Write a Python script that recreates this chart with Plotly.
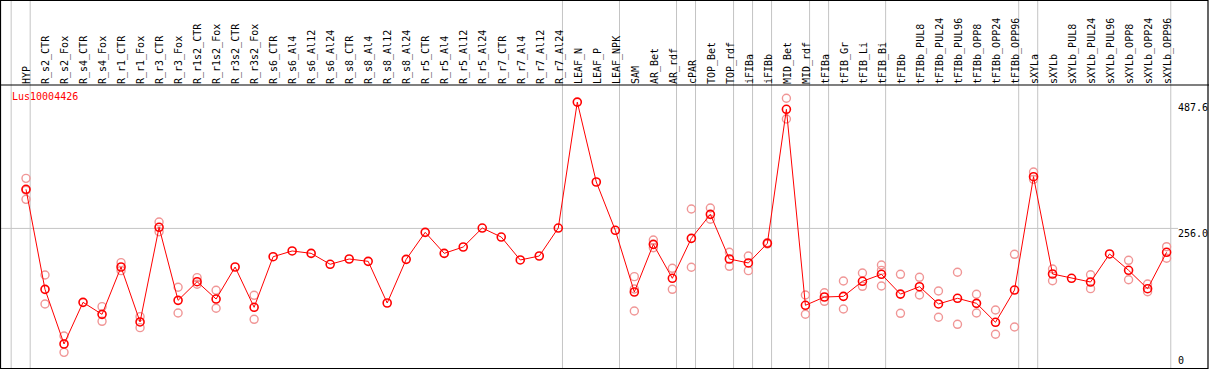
import plotly.graph_objects as go

title_text = "Lus10004426"

categories = [
    "HYP", "R_s2_CTR", "R_s2_Fox", "R_s4_CTR", "R_s4_Fox", "R_r1_CTR", "R_r1_Fox",
    "R_r3_CTR", "R_r3_Fox", "R_r1s2_CTR", "R_r1s2_Fox", "R_r3s2_CTR", "R_r3s2_Fox",
    "R_s6_CTR", "R_s6_Al4", "R_s6_Al12", "R_s6_Al24", "R_s8_CTR", "R_s8_Al4",
    "R_s8_Al12", "R_s8_Al24", "R_r5_CTR", "R_r5_Al4", "R_r5_Al12", "R_r5_Al24",
    "R_r7_CTR", "R_r7_Al4", "R_r7_Al12", "R_r7_Al24", "LEAF_N", "LEAF_P", "LEAF_NPK",
    "SAM", "AR_Bet", "AR_rdf", "cPAR", "TOP_Bet", "TOP_rdf", "iFIBa", "iFIBb",
    "MID_Bet", "MID_rdf", "tFIBa", "tFIB_Gr", "tFIB_Li", "tFIB_Bi", "tFIBb",
    "tFIBb_PUL8", "tFIBb_PUL24", "tFIBb_PUL96", "tFIBb_OPP8", "tFIBb_OPP24",
    "tFIBb_OPP96", "sXYLa", "sXYLb", "sXYLb_PUL8", "sXYLb_PUL24", "sXYLb_PUL96",
    "sXYLb_OPP8", "sXYLb_OPP24", "sXYLb_OPP96",
]

# number of categories in each separated group (left to right)
group_sizes = [1, 28, 3, 3, 1, 2, 1, 1, 2, 1, 3, 7, 1, 7]

mean_values = [
    327.7, 144.2, 44.0, 120.4, 98.4, 185.2, 84.4,
    258.0, 124.1, 158.3, 126.5, 185.2, 111.3,
    204.1, 214.6, 210.3, 190.2, 199.9, 195.6,
    119.2, 199.3, 248.8, 210.3, 221.9, 256.7,
    240.2, 198.1, 205.4, 256.7, 487.6, 341.1, 252.5,
    139.4, 226.8, 164.5, 237.8, 281.8, 199.9, 192.6, 228.7,
    474.4, 115.0, 130.2, 131.4, 159.0, 171.8, 135.5,
    149.1, 117.4, 127.8, 118.6, 83.8,
    143.0, 350.8, 172.4, 164.5, 157.7, 209.1,
    179.2, 145.4, 212.2,
]

N = None
rep_a = [
    347.8, 170.5, 58.7, N, 112.5, 193.2, 94.2,
    267.7, 148.0, 165.7, 142.5, N, 133.3,
    N, N, N, N, N, N,
    N, N, N, N, N, N,
    N, N, N, N, N, N, N,
    167.5, 234.7, 182.8, 291.6, 293.4, 212.2, 205.4, 230.0,
    494.6, 133.9, 138.1, 159.5, 174.2, 188.9, 171.8,
    166.3, 141.2, 175.5, 135.2, 106.4,
    208.5, 359.4, 181.6, N, 171.1, N,
    197.5, 154.0, 222.5,
]
rep_b = [
    309.3, 117.4, 28.7, N, 85.6, 178.5, 74.0,
    250.0, 100.9, 153.5, 109.5, N, 89.3,
    N, N, N, N, N, N,
    N, N, N, N, N, N,
    N, N, N, N, N, N, N,
    144.9, 220.6, 144.3, 184.7, 272.7, 186.5, 178.5, 227.5,
    456.6, 98.5, 122.3, 108.2, 149.8, 150.4, 100.3,
    133.9, 93.0, 80.1, 100.9, 61.8,
    75.2, 346.0, 160.1, N, 145.5, N,
    161.9, 139.9, 201.2,
]
rep_c = [
    326.0, N, N, N, N, N, N,
    N, N, N, N, N, N,
    N, N, N, N, N, N,
    N, N, N, N, N, N,
    N, N, N, N, N, N, N,
    104.5, N, N, N, N, N, N, N,
    N, N, N, N, N, 179.0, N,
    N, N, N, N, N,
    N, N, N, N, N, N,
    N, N, N,
]

y_ticks = [0, 256.0, 487.6]
y_tick_text = ["0", "256.0", "487.6"]

assert len(categories) == len(mean_values) == len(rep_a) == len(rep_b) == len(rep_c)
assert sum(group_sizes) == len(categories)

# ---- layout geometry ----
W, H = 1209, 370
TOP, BOT = 85, 2
plot_h = H - TOP - BOT
pitch = 19.01
first_px = 26.0
x_lo = -first_px / pitch
x_hi = x_lo + W / pitch
y_max = 519.0

idx = list(range(len(categories)))
light = "rgb(240,150,150)"
gray = "#c4c4c4"

fig = go.Figure()

# replicate points
rx, ry = [], []
for reps in (rep_a, rep_b, rep_c):
    for i, v in zip(idx, reps):
        if v is not None:
            rx.append(i)
            ry.append(v)
fig.add_trace(go.Scatter(
    x=rx, y=ry, mode="markers",
    marker=dict(symbol="circle-open", size=8, color=light, line=dict(width=1.4, color=light)),
    hoverinfo="skip", showlegend=False,
))

# mean line
fig.add_trace(go.Scatter(
    x=idx, y=mean_values, mode="lines+markers",
    line=dict(color="red", width=1),
    marker=dict(symbol="circle-open", size=8, color="red", line=dict(width=1.6, color="red")),
    showlegend=False,
))

shapes = []
# group separators
ends = []
s = -1
ends.append(s)
for g in group_sizes:
    s += g
    ends.append(s)
top_paper = (H - BOT) / plot_h
for e in ends:
    shapes.append(dict(type="line", xref="x", yref="paper", x0=e + 0.22, x1=e + 0.22,
                       y0=0, y1=top_paper, line=dict(color=gray, width=1), layer="below"))
# horizontal gridline at the middle tick
shapes.append(dict(type="line", xref="paper", yref="y", x0=0, x1=1178 / W,
                   y0=y_ticks[1], y1=y_ticks[1], line=dict(color=gray, width=1), layer="below"))
# frame
shapes.append(dict(type="rect", xref="paper", yref="paper",
                   x0=0.5 / W, x1=(W - 1.0) / W,
                   y0=-0.5 / plot_h, y1=(H - BOT - 0.5) / plot_h,
                   line=dict(color="black", width=1.2)))
shapes.append(dict(type="line", xref="paper", yref="paper", x0=0, x1=1, y0=1, y1=1,
                   line=dict(color="black", width=1.2)))

annotations = [
    dict(text=title_text, xref="paper", yref="paper", x=10 / W, y=(H - BOT - 97) / plot_h,
         xanchor="left", yanchor="middle", showarrow=False,
         font=dict(family="DejaVu Sans Mono", size=10, color="red")),
]
for v, t in zip(y_ticks, y_tick_text):
    annotations.append(dict(text=t, xref="paper", yref="y", x=1177 / W, y=v,
                            xanchor="left", yanchor="bottom" if v == 0 else "top",
                            showarrow=False, borderpad=0, yshift=1,
                            font=dict(family="DejaVu Sans Mono", size=10, color="black")))

fig.update_layout(
    width=W, height=H,
    margin=dict(l=0, r=0, t=TOP, b=BOT, pad=0),
    paper_bgcolor="white", plot_bgcolor="white",
    xaxis=dict(range=[x_lo, x_hi], side="top", tickmode="array", tickvals=idx,
               ticktext=categories, tickangle=-90, showgrid=False, zeroline=False,
               showline=False, ticks="", ticklabelstandoff=0, ticklabelshift=1,
               tickfont=dict(family="DejaVu Sans Mono", size=10, color="black")),
    yaxis=dict(range=[0, y_max], showgrid=False, zeroline=False, showline=False,
               showticklabels=False, ticks=""),
    shapes=shapes,
    annotations=annotations,
)

fig.write_html(
    "out.html",
    config={"displayModeBar": False},
    post_script="document.body.style.margin='0';document.body.style.overflow='hidden';",
)
